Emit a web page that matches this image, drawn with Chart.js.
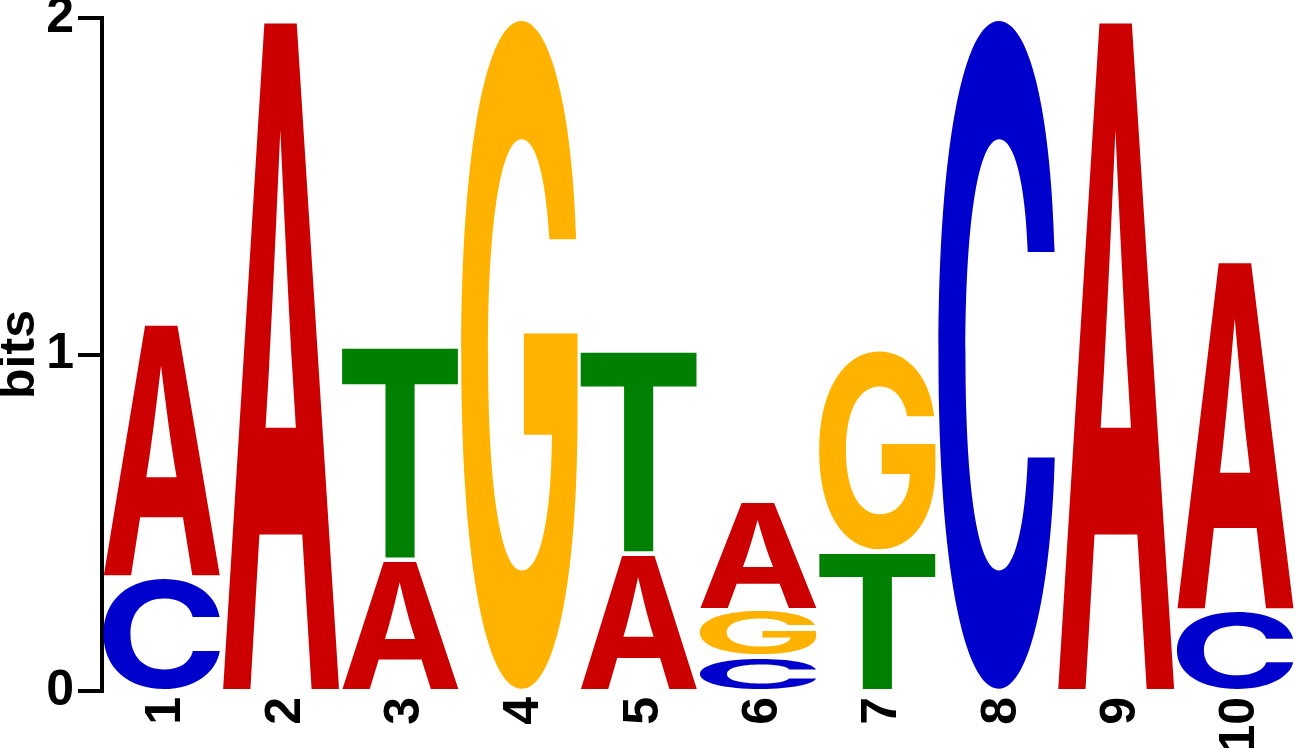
<!DOCTYPE html>
<html>
<head>
<meta charset="utf-8">
<script src="https://cdn.jsdelivr.net/npm/chart.js@4.4.1/dist/chart.umd.min.js"></script>
<style>
  html, body { margin: 0; padding: 0; background: #fff; }
  #wrap { width: 1295px; height: 748px; position: relative; }
</style>
</head>
<body>
<div id="wrap"><canvas id="logo"></canvas></div>
<script>
// ── SEQUENCE LOGO DATA (bits per letter and position) ─────────
const positions = ['1', '2', '3', '4', '5', '6', '7', '8', '9', '10']
const bitsA = [0.744, 1.99, 0.397, 0, 0.415, 0.313, 0, 0, 1.99, 1.029]
const bitsC = [0.344, 0, 0, 0, 0, 0.110, 0, 1.985, 0, 0.246]
const bitsG = [0, 0, 0, 1.985, 0, 0.137, 0.586, 0, 0, 0]
const bitsT = [0, 0, 0.622, 0, 0.592, 0, 0.421, 0, 0, 0]
const yTicks = [0, 1, 2]

const letters = ['A', 'C', 'G', 'T']
const letterBits = { A: bitsA, C: bitsC, G: bitsG, T: bitsT }
const letterColors = { A: '#cc0000', C: '#0000cc', G: '#ffb300', T: '#008000' }

// stack letters per column, smallest at the bottom
const ranges = { A: [], C: [], G: [], T: [] }
const columnTop = []
positions.forEach((_, i) => {
  const order = letters.filter(l => letterBits[l][i] > 0)
    .sort((a, b) => letterBits[a][i] - letterBits[b][i])
  let base = 0
  letters.forEach(l => { ranges[l][i] = null })
  order.forEach(l => {
    ranges[l][i] = [base, base + letterBits[l][i]]
    base += letterBits[l][i]
  })
  columnTop[i] = base
})

const FONT = '"Liberation Sans", Arial, Helvetica, sans-serif'
const GLYPH_FONT = 'Inter, "Liberation Sans", sans-serif'
const GAP = 4

function drawGlyph (ctx, ch, color, left, top, w, h) {
  if (w <= 0 || h <= 0) return
  ctx.save()
  ctx.font = 'bold 200px ' + GLYPH_FONT
  ctx.textAlign = 'left'
  ctx.textBaseline = 'alphabetic'
  const m = ctx.measureText(ch)
  const gw = m.actualBoundingBoxLeft + m.actualBoundingBoxRight
  const gh = m.actualBoundingBoxAscent + m.actualBoundingBoxDescent
  ctx.translate(left, top)
  ctx.scale(w / gw, h / gh)
  ctx.fillStyle = color
  ctx.fillText(ch, m.actualBoundingBoxLeft, m.actualBoundingBoxAscent)
  ctx.restore()
}

const glyphPlugin = {
  id: 'glyphs',
  afterDatasetsDraw (chart) {
    const ctx = chart.ctx
    chart.data.datasets.forEach((ds, di) => {
      const meta = chart.getDatasetMeta(di)
      meta.data.forEach((bar, i) => {
        if (!ranges[ds.label][i]) return
        const p = bar.getProps(['x', 'y', 'base', 'width'], true)
        const top = Math.min(p.y, p.base)
        const bottom = Math.max(p.y, p.base)
        const isTop = ranges[ds.label][i][1] >= columnTop[i] - 1e-9
        const t = isTop ? top : top + GAP
        drawGlyph(ctx, ds.label, letterColors[ds.label], p.x - p.width / 2, t, p.width, bottom - t)
      })
    })
  }
}

document.addEventListener('DOMContentLoaded', () => {
  const ctx = document.getElementById('logo').getContext('2d')
  new Chart(ctx, {
    type: 'bar',
    data: {
      labels: positions,
      datasets: letters.map(l => ({
        label: l,
        data: ranges[l],
        backgroundColor: 'rgba(0,0,0,0)',
        borderWidth: 0,
        grouped: false,
        barPercentage: 0.98,
        categoryPercentage: 1
      }))
    },
    options: {
      responsive: true,
      maintainAspectRatio: false,
      animation: false,
      devicePixelRatio: 1,
      layout: { padding: { top: 18, right: 0, bottom: 0, left: 0 } },
      plugins: {
        legend: { display: false },
        tooltip: { enabled: false }
      },
      scales: {
        x: {
          grid: { display: false },
          border: { display: false },
          ticks: {
            color: '#000',
            font: { family: FONT, size: 50, weight: 'bold' },
            maxRotation: 90,
            minRotation: 90,
            padding: -2,
            labelOffset: 5,
            autoSkip: false
          },
          afterFit: s => { s.height = 57; s.paddingLeft = 0; s.paddingRight = 0 }
        },
        y: {
          min: 0,
          max: 2,
          afterBuildTicks: s => { s.ticks = yTicks.map(v => ({ value: v })) },
          ticks: {
            color: '#000',
            font: { family: FONT, size: 50, weight: 'bold' },
            padding: 4
          },
          grid: {
            drawOnChartArea: false,
            drawTicks: true,
            tickLength: 24,
            lineWidth: 4,
            color: '#000'
          },
          border: { display: true, width: 4, color: '#000' },
          title: {
            display: true,
            text: 'bits',
            color: '#000',
            font: { family: FONT, size: 50, weight: 'bold', lineHeight: 0.8 },
            padding: 0
          },
          afterFit: s => { s.width = 102; s.paddingTop = 0; s.paddingBottom = 0 }
        }
      }
    },
    plugins: [glyphPlugin]
  })
})
</script>
</body>
</html>
